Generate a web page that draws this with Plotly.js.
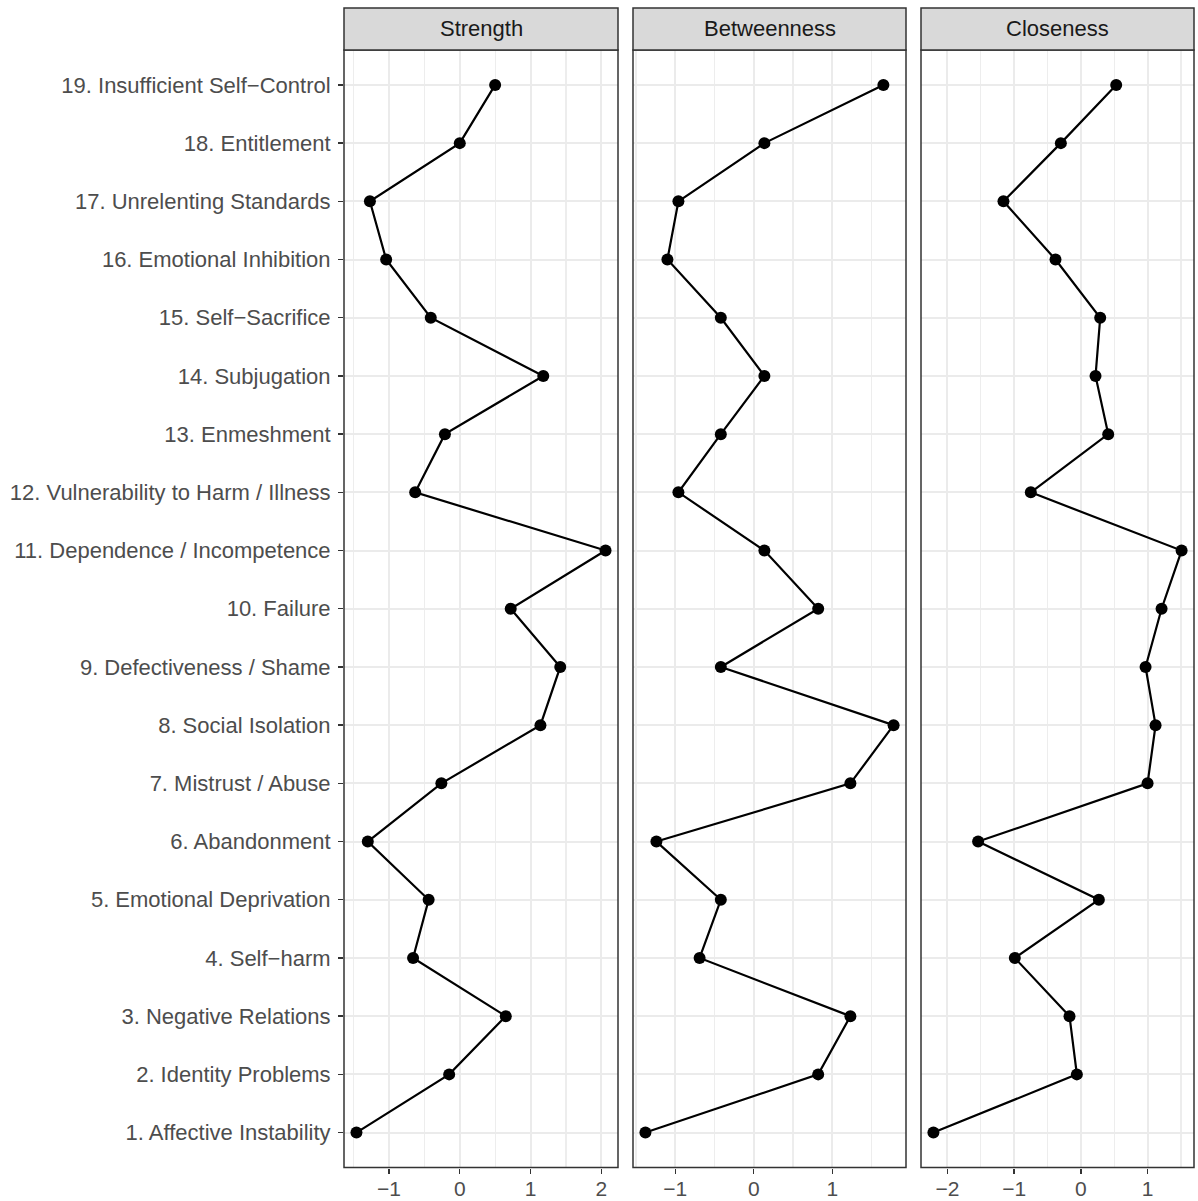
<!DOCTYPE html>
<html>
<head>
<meta charset="utf-8">
<script src="https://cdn.plot.ly/plotly-3.0.1.min.js"></script>
<style>html,body{margin:0;padding:0;background:#fff;}#chart{width:1198px;height:1201px;}</style>
</head>
<body>
<div id="chart"></div>
<script>
const labels = [
  "1. Affective Instability",
  "2. Identity Problems",
  "3. Negative Relations",
  "4. Self\u2212harm",
  "5. Emotional Deprivation",
  "6. Abandonment",
  "7. Mistrust / Abuse",
  "8. Social Isolation",
  "9. Defectiveness / Shame",
  "10. Failure",
  "11. Dependence / Incompetence",
  "12. Vulnerability to Harm / Illness",
  "13. Enmeshment",
  "14. Subjugation",
  "15. Self\u2212Sacrifice",
  "16. Emotional Inhibition",
  "17. Unrelenting Standards",
  "18. Entitlement",
  "19. Insufficient Self\u2212Control"
];
const panelNames = ["Strength", "Betweenness", "Closeness"];
const strength    = [-1.46, -0.15, 0.65, -0.66, -0.44, -1.30, -0.26, 1.14, 1.42, 0.72, 2.06, -0.63, -0.21, 1.18, -0.41, -1.04, -1.27, 0.00, 0.50];
const betweenness = [-1.38, 0.82, 1.23, -0.69, -0.42, -1.24, 1.23, 1.78, -0.42, 0.82, 0.135, -0.96, -0.42, 0.135, -0.42, -1.10, -0.96, 0.135, 1.65];
const closeness   = [-2.21, -0.06, -0.17, -0.99, 0.27, -1.54, 1.00, 1.12, 0.97, 1.21, 1.51, -0.75, 0.41, 0.22, 0.29, -0.38, -1.16, -0.30, 0.53];

const series = [strength, betweenness, closeness];
const W = 1198, H = 1201;
const xDomains = [[344/W, 618/W], [633/W, 906/W], [921/W, 1194/W]];
const yDomain = [(H-1167.5)/H, (H-50)/H];
const stripTop = (H-8)/H;
const font = "Liberation Sans, Arial, Helvetica, sans-serif";
const fs = 22;

function expRange(v){
  const mn = Math.min(...v), mx = Math.max(...v), s = mx - mn;
  return [mn - 0.05*s, mx + 0.05*s];
}

const traces = series.map((vals, i) => ({
  type: 'scatter', mode: 'lines+markers',
  x: vals, y: labels,
  xaxis: i === 0 ? 'x' : 'x' + (i+1), yaxis: 'y',
  line: {color: '#000', width: 2.2},
  marker: {color: '#000', size: 12},
  hoverinfo: 'x+y', showlegend: false
}));

const layout = {
  width: W, height: H,
  margin: {l: 0, r: 0, t: 0, b: 0},
  paper_bgcolor: '#fff', plot_bgcolor: '#fff',
  font: {family: font, color: '#4D4D4D'},
  showlegend: false,
  yaxis: {
    type: 'category', domain: yDomain, anchor: 'x',
    categoryorder: 'array', categoryarray: labels,
    range: [-0.6, labels.length - 0.4],
    showgrid: true, gridcolor: '#EBEBEB', gridwidth: 2,
    zeroline: false, showline: false,
    ticks: 'outside', ticklen: 5, tickwidth: 1.4, tickcolor: '#333333',
    tickfont: {family: font, size: fs, color: '#4D4D4D'},
    ticklabelstandoff: 3,
    fixedrange: true
  },
  shapes: [], annotations: []
};

series.forEach((vals, i) => {
  const key = i === 0 ? 'xaxis' : 'xaxis' + (i+1);
  const ref = i === 0 ? 'x' : 'x' + (i+1);
  layout[key] = {
    domain: xDomains[i], anchor: 'y',
    range: expRange(vals),
    dtick: 1, tick0: 0,
    showgrid: true, gridcolor: '#EBEBEB', gridwidth: 2,
    minor: {dtick: 0.5, tick0: 0, showgrid: true, gridcolor: '#EDEDED', gridwidth: 1.2, ticks: ''},
    zeroline: false, showline: false,
    ticks: 'outside', ticklen: 5, tickwidth: 1.4, tickcolor: '#333333',
    tickfont: {family: font, size: 21, color: '#4D4D4D'},
    ticklabelstandoff: -3,
    fixedrange: true
  };
  layout.shapes.push({
    type: 'rect', xref: ref + ' domain', yref: 'y domain',
    x0: 0, x1: 1, y0: 0, y1: 1,
    line: {color: '#333333', width: 1.5}, fillcolor: 'rgba(0,0,0,0)', layer: 'above'
  });
  layout.shapes.push({
    type: 'rect', xref: ref + ' domain', yref: 'paper',
    x0: 0, x1: 1, y0: yDomain[1], y1: stripTop,
    line: {color: '#333333', width: 1.5}, fillcolor: '#D9D9D9', layer: 'above'
  });
  layout.annotations.push({
    xref: ref + ' domain', yref: 'paper',
    x: 0.5, y: (yDomain[1] + stripTop) / 2,
    xanchor: 'center', yanchor: 'middle',
    text: panelNames[i], showarrow: false,
    font: {family: font, size: fs, color: '#1A1A1A'}
  });
});

Plotly.newPlot('chart', traces, layout, {displayModeBar: false, staticPlot: true});
</script>
</body>
</html>
